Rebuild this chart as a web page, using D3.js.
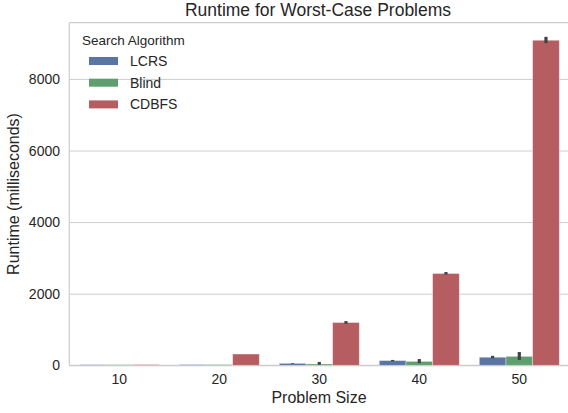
<!DOCTYPE html>
<html lang="en">
<head>
<meta charset="UTF-8" />
<title>Runtime for Worst-Case Problems</title>
<script src="https://d3js.org/d3.v7.min.js"></script>
<style>
  body { margin: 0; background: #fff; }
  svg text { font-family: "Liberation Sans", Arial, sans-serif; fill: #262626; }
  .grid line { stroke: #cccccc; stroke-width: 1; }
  .grid path { display: none; }
</style>
</head>
<body>
<div id="chart"></div>
<script>
// problem sizes on the x axis
const sizes = ["10", "20", "30", "40", "50"];
const algorithms = ["LCRS", "Blind", "CDBFS"];
const colors = ["#5975a4", "#5f9e6e", "#b55d60"];

// mean runtime (ms)
const lcrs  = [20, 22, 55, 132, 225];
const blind = [20, 24, 38, 110, 250];
const cdbfs = [22, 315, 1195, 2565, 9080];

// confidence interval bounds
const lcrsLo  = [20, 22, 45, 115, 195];
const lcrsHi  = [20, 22, 65, 150, 265];
const blindLo = [20, 24, 15, 60, 150];
const blindHi = [20, 24, 95, 175, 370];
const cdbfsLo = [22, 315, 1160, 2535, 9000];
const cdbfsHi = [22, 315, 1235, 2605, 9175];

const yTicks = [0, 2000, 4000, 6000, 8000];

const W = 568, H = 413;
const m = { left: 69.3, right: -1.3, top: 22.7, bottom: 47.7 };

const series = [
  { name: algorithms[0], vals: lcrs, lo: lcrsLo, hi: lcrsHi },
  { name: algorithms[1], vals: blind, lo: blindLo, hi: blindHi },
  { name: algorithms[2], vals: cdbfs, lo: cdbfsLo, hi: cdbfsHi }
];

const svg = d3.select("#chart").append("svg")
  .attr("width", W).attr("height", H);

const x = d3.scaleBand().domain(sizes)
  .range([m.left, W - m.right]).paddingInner(0.2).paddingOuter(0.1);
const xh = d3.scaleBand().domain(algorithms).range([0, x.bandwidth()]);
const y = d3.scaleLinear().domain([0, 9570]).range([H - m.bottom, m.top]);
const color = d3.scaleOrdinal().domain(algorithms).range(colors);

// grid
svg.append("g").attr("class", "grid")
  .attr("transform", `translate(${m.left},0)`)
  .call(d3.axisLeft(y).tickValues(yTicks).tickSize(-(W - m.right - m.left)).tickFormat(""));

// frame (left, top, bottom)
const frame = svg.append("g").attr("stroke", "#cccccc").attr("stroke-width", 1.2);
frame.append("line").attr("x1", m.left).attr("x2", m.left).attr("y1", m.top).attr("y2", H - m.bottom);
frame.append("line").attr("x1", m.left).attr("x2", W).attr("y1", m.top).attr("y2", m.top);
frame.append("line").attr("x1", m.left).attr("x2", W).attr("y1", H - m.bottom).attr("y2", H - m.bottom);

// bars
series.forEach(s => {
  const g = svg.append("g");
  g.selectAll("rect").data(sizes).enter().append("rect")
    .attr("x", d => x(d) + xh(s.name))
    .attr("width", xh.bandwidth())
    .attr("y", (d, i) => y(s.vals[i]))
    .attr("height", (d, i) => y(0) - y(s.vals[i]))
    .attr("fill", color(s.name))
    .attr("stroke", "#ffffff").attr("stroke-opacity", 0.45).attr("stroke-width", 0.8);
});

// error bars
series.forEach(s => {
  svg.append("g").selectAll("line").data(sizes).enter().append("line")
    .attr("x1", d => x(d) + xh(s.name) + xh.bandwidth() / 2)
    .attr("x2", d => x(d) + xh(s.name) + xh.bandwidth() / 2)
    .attr("y1", (d, i) => y(s.lo[i]))
    .attr("y2", (d, i) => y(s.hi[i]))
    .attr("stroke", "#424242").attr("stroke-width", 3.2);
});

// y tick labels
svg.append("g").selectAll("text").data(yTicks).enter().append("text")
  .attr("x", 60).attr("y", d => y(d)).attr("dy", "0.36em")
  .attr("text-anchor", "end").style("font-size", "14px")
  .text(d => d);

// x tick labels
svg.append("g").selectAll("text").data(sizes).enter().append("text")
  .attr("x", d => x(d) + x.bandwidth() / 2).attr("y", 384)
  .attr("text-anchor", "middle").style("font-size", "14px")
  .text(d => d);

// axis titles
svg.append("text").attr("x", 319).attr("y", 403)
  .attr("text-anchor", "middle").style("font-size", "16px").text("Problem Size");
svg.append("text").attr("transform", `translate(19,${(m.top + H - m.bottom) / 2}) rotate(-90)`)
  .attr("text-anchor", "middle").style("font-size", "16px").text("Runtime (milliseconds)");
svg.append("text").attr("x", 318).attr("y", 16)
  .attr("text-anchor", "middle").style("font-size", "17.5px").text("Runtime for Worst-Case Problems");

// legend
const legend = svg.append("g");
legend.append("text").attr("x", 82).attr("y", 45).style("font-size", "13.5px").text("Search Algorithm");
const item = legend.selectAll(".item").data(algorithms).enter().append("g")
  .attr("transform", (d, i) => `translate(0,${61 + i * 21.7})`);
item.append("rect").attr("x", 89).attr("y", -4).attr("width", 29).attr("height", 8)
  .attr("fill", d => color(d));
item.append("text").attr("x", 130).attr("dy", "0.36em").style("font-size", "14px").text(d => d);
</script>
</body>
</html>
